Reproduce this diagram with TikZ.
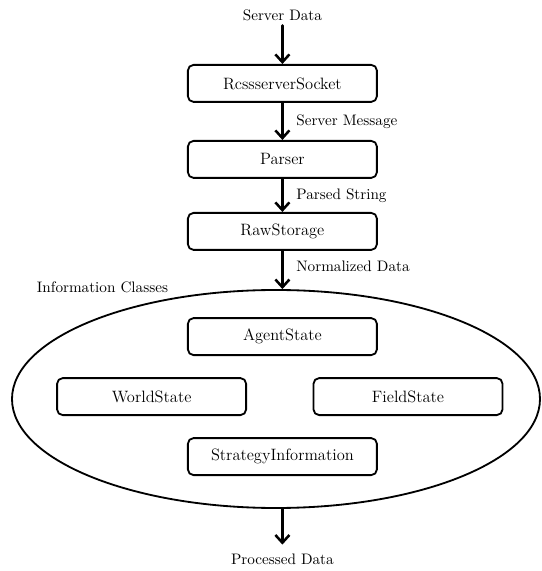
\documentclass[tikz,border=0pt]{standalone}
\usetikzlibrary{arrows.meta,shapes.geometric}
\begin{document}
\begin{tikzpicture}[x=1cm,y=1cm, line cap=round, line join=round]
  \tikzset{
    classbox/.style={draw, rounded corners=4pt, line width=1.3pt,
      minimum width=4.725cm, minimum height=0.925cm, inner sep=0pt,
      font=\fontsize{11.7}{13}\selectfont},
    note/.style={font=\fontsize{10.8}{12}\selectfont},
    flow/.style={-{Straight Barb[length=5.5pt,width=10pt]}, line width=1.8pt}
  }

  \def\xmid{7.06}

  \useasboundingbox (0,0) rectangle (13.55,14.275);

  % Pipeline
  \node[note] (serverdata) at (\xmid,13.9) {Server Data};
  \node[classbox] (socket) at (\xmid,12.19) {RcssserverSocket};
  \node[classbox] (parser) at (\xmid,10.29) {Parser};
  \node[classbox] (rawstorage) at (\xmid,8.49) {RawStorage};

  % Information classes
  \node[draw, ellipse, line width=1.3pt, minimum width=13.2cm,
    minimum height=5.45cm, inner sep=0pt] (infoclasses) at (6.9,4.3) {};
  \node[note, anchor=west] (infolabel) at (0.8,7.1) {Information Classes};
  \node[classbox] (agentstate) at (\xmid,5.86) {AgentState};
  \node[classbox] (worldstate) at (3.79,4.36) {WorldState};
  \node[classbox] (fieldstate) at (10.2,4.36) {FieldState};
  \node[classbox] (strategyinfo) at (\xmid,2.86) {StrategyInformation};

  \node[note] (processed) at (\xmid,0.28) {Processed Data};
  \coordinate (outend) at (\xmid,0.66);

  % Arrows
  \draw[flow] (serverdata) -- (socket);
  \draw[flow] (socket) -- node[note, right=0.2cm] {Server Message} (parser);
  \draw[flow] (parser) -- node[note, right=0.2cm] {Parsed String} (rawstorage);
  \draw[flow] (rawstorage) -- node[note, right=0.2cm, pos=0.4] {Normalized Data}
    (rawstorage.south |- infoclasses.north);
  \draw[flow] (infoclasses.south -| strategyinfo) -- (outend);
\end{tikzpicture}
\end{document}
